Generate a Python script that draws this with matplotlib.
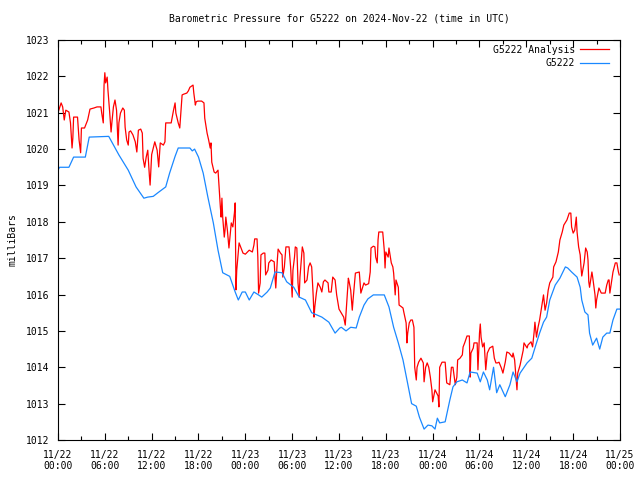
import matplotlib
matplotlib.use('Agg')
import matplotlib.pyplot as plt
import matplotlib.dates as mdates
import pandas as pd

# hours since 2024-11-22 00:00 UTC, pressure in mb
red_hours = [0.0, 0.4, 0.6, 0.8, 1.0, 1.4, 1.6, 1.8, 1.9, 2.0, 2.5, 2.7, 2.9, 3.0, 3.4, 3.8,
             4.1, 4.6, 5.0, 5.5, 5.6, 5.8, 5.9, 6.0, 6.1, 6.3, 6.4, 6.6, 6.8, 6.9, 7.1, 7.3,
             7.5, 7.7, 7.8, 8.0, 8.3, 8.5, 8.6, 8.8, 9.0, 9.1, 9.3, 9.6, 9.9, 10.1, 10.3,
             10.6, 10.8, 10.9, 11.1, 11.3, 11.5, 11.7, 11.8, 12.0, 12.4, 12.7, 12.9, 13.1,
             13.5, 13.7, 13.8, 14.5, 14.8, 15.0, 15.1, 15.4, 15.6, 15.8, 15.9, 16.1, 16.5,
             16.7, 16.9, 17.3, 17.4, 17.6, 17.7, 17.9, 18.4, 18.7, 18.8, 19.1, 19.3, 19.5,
             19.6, 19.7, 20.0, 20.2, 20.5, 20.6, 20.8, 20.9, 21.0, 21.1, 21.3, 21.4, 21.5,
             21.7, 21.9, 22.2, 22.4, 22.6, 22.7, 22.75, 22.8, 22.9, 23.2, 23.4, 23.7, 24.0,
             24.5, 24.9, 25.1, 25.2, 25.5, 25.6, 25.7, 25.9, 26.0, 26.3, 26.5, 26.6, 26.9,
             27.0, 27.3, 27.7, 27.8, 27.9, 28.1, 28.2, 28.5, 28.7, 28.8, 29.0, 29.2, 29.6,
             29.8, 30.0, 30.1, 30.3, 30.4, 30.6, 30.75, 30.9, 31.0, 31.3, 31.5, 31.6, 31.9,
             32.1, 32.3, 32.5, 32.7, 32.8, 32.9, 33.1, 33.3, 33.6, 33.8, 34.0, 34.2, 34.6,
             34.7, 35.0, 35.2, 35.5, 35.7, 36.0, 36.3, 36.6, 36.8, 36.9, 37.2, 37.3, 37.5,
             37.7, 37.8, 38.1, 38.6, 38.8, 39.0, 39.2, 39.4, 39.8, 40.0, 40.1, 40.4, 40.6,
             40.7, 40.9, 41.0, 41.1, 41.6, 41.8, 41.9, 42.0, 42.3, 42.4, 42.7, 42.9, 43.0,
             43.2, 43.3, 43.6, 43.7, 43.9, 44.2, 44.3, 44.6, 44.7, 44.8, 45.0, 45.2, 45.4,
             45.6, 45.7, 45.9, 46.0, 46.2, 46.5, 46.8, 46.9, 47.1, 47.3, 47.5, 47.7, 47.9,
             48.0, 48.3, 48.7, 48.8, 48.9, 49.2, 49.6, 49.8, 50.2, 50.4, 50.6, 50.9, 51.1,
             51.2, 51.5, 51.8, 51.9, 52.1, 52.4, 52.7, 52.8, 52.9, 53.2, 53.3, 53.7, 53.8,
             54.0, 54.1, 54.2, 54.4, 54.6, 54.8, 55.0, 55.3, 55.7, 55.9, 56.1, 56.3, 56.5,
             56.8, 57.0, 57.3, 57.5, 57.8, 58.2, 58.3, 58.5, 58.8, 58.9, 59.2, 59.6, 59.7,
             60.1, 60.2, 60.6, 60.8, 61.0, 61.1, 61.3, 61.5, 61.7, 61.9, 62.2, 62.4, 62.6,
             62.8, 63.0, 63.4, 63.5, 63.8, 64.1, 64.3, 64.6, 64.8, 65.2, 65.5, 65.7, 65.8,
             66.0, 66.2, 66.4, 66.5, 66.7, 66.9, 67.0, 67.1, 67.4, 67.6, 67.8, 67.9, 68.0,
             68.1, 68.4, 68.5, 68.8, 68.9, 69.0, 69.3, 69.6, 70.1, 70.3, 70.5, 70.6, 70.7,
             70.9, 71.1, 71.4, 71.6, 71.8, 71.9]
red_mb = [1021.0, 1021.27, 1021.16, 1020.8, 1021.07, 1021.02, 1020.72, 1020.03, 1020.3, 1020.88,
          1020.88, 1020.25, 1019.9, 1020.58, 1020.58, 1020.8, 1021.1, 1021.13, 1021.16, 1021.16,
          1020.99, 1020.72, 1021.76, 1022.1, 1021.82, 1021.98, 1021.62, 1021.07, 1020.47, 1020.72,
          1021.16, 1021.35, 1021.07, 1020.11, 1020.72, 1020.99, 1021.13, 1021.07, 1020.6, 1020.25,
          1020.11, 1020.47, 1020.5, 1020.39, 1020.2, 1019.92, 1020.52, 1020.55, 1020.44, 1019.75,
          1019.5, 1019.78, 1019.97, 1019.29, 1019.01, 1019.85, 1020.2, 1019.97, 1019.51, 1020.17,
          1020.11, 1020.2, 1020.72, 1020.72, 1021.07, 1021.27, 1020.99, 1020.72, 1020.58, 1021.16,
          1021.49, 1021.51, 1021.54, 1021.6, 1021.7, 1021.76, 1021.54, 1021.21, 1021.3, 1021.32,
          1021.32, 1021.27, 1020.85, 1020.44, 1020.25, 1020.03, 1020.17, 1019.64, 1019.37, 1019.34,
          1019.42, 1019.07, 1018.41, 1018.13, 1018.65, 1018.13, 1017.58, 1017.77, 1018.13, 1017.77,
          1017.28, 1017.97, 1017.86, 1018.24, 1018.52, 1017.42, 1016.13, 1016.67, 1017.42, 1017.31,
          1017.14, 1017.11, 1017.22, 1017.17, 1017.36, 1017.53, 1017.53, 1017.03, 1016.04, 1016.32,
          1017.09, 1017.14, 1017.14, 1016.54, 1016.67, 1016.87, 1016.95, 1016.9, 1016.48, 1016.18,
          1016.95, 1017.25, 1017.14, 1017.09, 1016.48, 1016.76, 1017.31, 1017.31, 1016.76, 1015.93,
          1016.67, 1017.03, 1017.31, 1017.28, 1016.32, 1015.93, 1016.48, 1017.31, 1017.14, 1016.32,
          1016.4, 1016.76, 1016.87, 1016.76, 1015.93, 1015.38, 1015.66, 1016.04, 1016.32, 1016.2,
          1016.07, 1016.35, 1016.4, 1016.32, 1016.07, 1016.07, 1016.48, 1016.4, 1015.99, 1015.6,
          1015.49, 1015.38, 1015.16, 1015.49, 1016.45, 1016.35, 1016.12, 1015.57, 1015.85, 1016.59,
          1016.62, 1016.04, 1016.18, 1016.32, 1016.26, 1016.3, 1016.62, 1017.28, 1017.33, 1017.31,
          1017.03, 1016.87, 1017.5, 1017.72, 1017.72, 1017.22, 1016.73, 1017.17, 1017.03, 1017.28,
          1016.87, 1016.76, 1016.59, 1015.99, 1016.4, 1016.2, 1015.71, 1015.68, 1015.63, 1015.52,
          1015.22, 1014.67, 1014.94, 1015.22, 1015.3, 1015.3, 1015.1, 1014.0, 1013.65, 1014.0,
          1014.14, 1014.25, 1014.12, 1013.6, 1014.0, 1014.12, 1014.0, 1013.73, 1013.38, 1013.05,
          1013.38, 1013.21, 1012.91, 1014.0, 1014.14, 1014.14, 1013.57, 1013.52, 1014.0, 1014.0,
          1013.52, 1013.73, 1014.2, 1014.25, 1014.34, 1014.56, 1014.67, 1014.86, 1014.86, 1013.73,
          1014.39, 1014.53, 1014.67, 1014.67, 1013.93, 1014.94, 1015.19, 1014.83, 1014.56, 1014.67,
          1013.93, 1014.39, 1014.53, 1014.58, 1014.25, 1014.12, 1014.12, 1014.14, 1013.98, 1013.84,
          1014.14, 1014.42, 1014.39, 1014.28, 1014.39, 1014.2, 1013.38, 1013.84, 1014.06, 1014.47,
          1014.67, 1014.53, 1014.61, 1014.7, 1014.56, 1014.97, 1015.24, 1014.83, 1015.1, 1015.3,
          1015.57, 1015.99, 1015.57, 1015.77, 1016.12, 1016.32, 1016.48, 1016.76, 1016.9, 1017.17,
          1017.5, 1017.72, 1017.91, 1018.05, 1018.24, 1018.24, 1017.86, 1017.69, 1017.77, 1018.13,
          1017.72, 1017.31, 1017.09, 1016.76, 1016.51, 1016.87, 1017.28, 1017.17, 1016.95, 1016.35,
          1016.2, 1016.62, 1016.48, 1015.99, 1015.63, 1015.85, 1016.18, 1016.04, 1016.04, 1016.26,
          1016.4, 1016.4, 1016.04, 1016.32, 1016.62, 1016.87, 1016.87, 1016.62, 1016.54]

blue_hours = [0.0, 0.2, 1.4, 2.0, 3.5, 4.0, 6.5, 7.8, 9.0, 10.0, 11.0, 11.5, 12.2, 12.8, 13.8,
              14.3, 15.0, 15.4, 16.9, 17.2, 17.5, 18.0, 18.6, 19.2, 19.9, 20.5, 21.1, 22.0,
              22.7, 23.1, 23.6, 24.0, 24.5, 25.1, 25.7, 26.1, 26.8, 27.2, 27.8, 28.7, 29.3,
              30.2, 30.9, 31.7, 32.5, 33.8, 34.7, 35.5, 36.1, 36.3, 36.9, 37.5, 38.2, 38.6,
              39.2, 39.7, 40.4, 41.8, 42.4, 43.0, 43.6, 44.2, 44.8, 45.3, 45.9, 46.3, 46.9,
              47.4, 47.9, 48.3, 48.6, 48.9, 49.6, 50.2, 50.6, 51.1, 51.8, 52.4, 52.8, 53.7,
              54.1, 54.5, 55.0, 55.3, 55.8, 56.2, 56.6, 57.3, 57.9, 58.3, 58.8, 59.2, 60.1,
              60.7, 61.3, 61.7, 62.2, 62.6, 63.0, 63.7, 64.3, 65.0, 65.3, 65.8, 66.5, 66.9,
              67.1, 67.5, 67.9, 68.1, 68.5, 69.0, 69.4, 69.8, 70.3, 70.7, 71.1, 71.6, 72.0]
blue_mb = [1019.42, 1019.5, 1019.5, 1019.78, 1019.78, 1020.33, 1020.35, 1019.84, 1019.42, 1018.96,
           1018.65, 1018.68, 1018.7, 1018.8, 1018.96, 1019.34, 1019.8, 1020.03, 1020.03, 1019.95,
           1020.0, 1019.78, 1019.34, 1018.68, 1017.97, 1017.22, 1016.6, 1016.5, 1016.07, 1015.85,
           1016.07, 1016.07, 1015.85, 1016.07, 1015.99, 1015.93, 1016.07, 1016.18, 1016.62, 1016.6,
           1016.35, 1016.2, 1015.93, 1015.85, 1015.5, 1015.38, 1015.24, 1014.94, 1015.08, 1015.1,
           1015.0, 1015.1, 1015.08, 1015.38, 1015.71, 1015.88, 1015.99, 1015.99, 1015.66, 1015.1,
           1014.67, 1014.2, 1013.55, 1013.0, 1012.93, 1012.63, 1012.3, 1012.41, 1012.39, 1012.3,
           1012.6, 1012.47, 1012.5, 1013.1, 1013.46, 1013.6, 1013.65, 1013.57, 1013.87, 1013.84,
           1013.6, 1013.87, 1013.65, 1013.38, 1014.0, 1013.3, 1013.52, 1013.19, 1013.52, 1013.87,
           1013.6, 1013.84, 1014.12, 1014.25, 1014.67, 1014.94, 1015.24, 1015.38, 1015.85, 1016.26,
           1016.45, 1016.76, 1016.73, 1016.62, 1016.48, 1016.2, 1015.85, 1015.52, 1015.44, 1014.94,
           1014.61, 1014.8, 1014.5, 1014.83, 1014.94, 1014.94, 1015.3, 1015.6, 1015.6]

start = pd.Timestamp('2024-11-22 00:00')
red_t = start + pd.to_timedelta(red_hours, unit='h')
blue_t = start + pd.to_timedelta(blue_hours, unit='h')

plt.rcParams['font.family'] = 'DejaVu Sans Mono'
plt.rcParams['font.size'] = 7

fig = plt.figure(figsize=(6.4, 4.8), dpi=100)
ax = fig.add_axes([58 / 640, 40 / 480, 562 / 640, 400 / 480])

ax.plot(red_t, red_mb, color='#ff0000', lw=0.9, label='G5222 Analysis')
ax.plot(blue_t, blue_mb, color='#1a88ff', lw=0.9, label='G5222')

ax.set_xlim(start, start + pd.Timedelta(hours=72))
ax.set_ylim(1012, 1023)
ax.set_yticks(range(1012, 1024))

ax.xaxis.set_major_locator(mdates.HourLocator(byhour=[0, 6, 12, 18]))
ax.xaxis.set_minor_locator(mdates.HourLocator(byhour=[3, 9, 15, 21]))
ax.xaxis.set_major_formatter(mdates.DateFormatter('%m/%d\n%H:%M'))

ax.tick_params(which='both', direction='in', top=True, right=True, width=0.8)
ax.tick_params(which='major', length=5, pad=6)
ax.tick_params(which='minor', length=3)
ax.tick_params(axis='x', which='major', pad=7)
for s in ax.spines.values():
    s.set_linewidth(0.8)

ax.set_title('Barometric Pressure for G5222 on 2024-Nov-22 (time in UTC)', fontsize=7, pad=13)
ax.set_ylabel('milliBars', labelpad=6)

ax.legend(loc='upper right', bbox_to_anchor=(0.988, 0.9975), frameon=False,
          markerfirst=False, handlelength=3.0, handletextpad=0.5, labelspacing=0.35,
          borderaxespad=0.0, fontsize=7)

fig.savefig('out.png', dpi=100)
